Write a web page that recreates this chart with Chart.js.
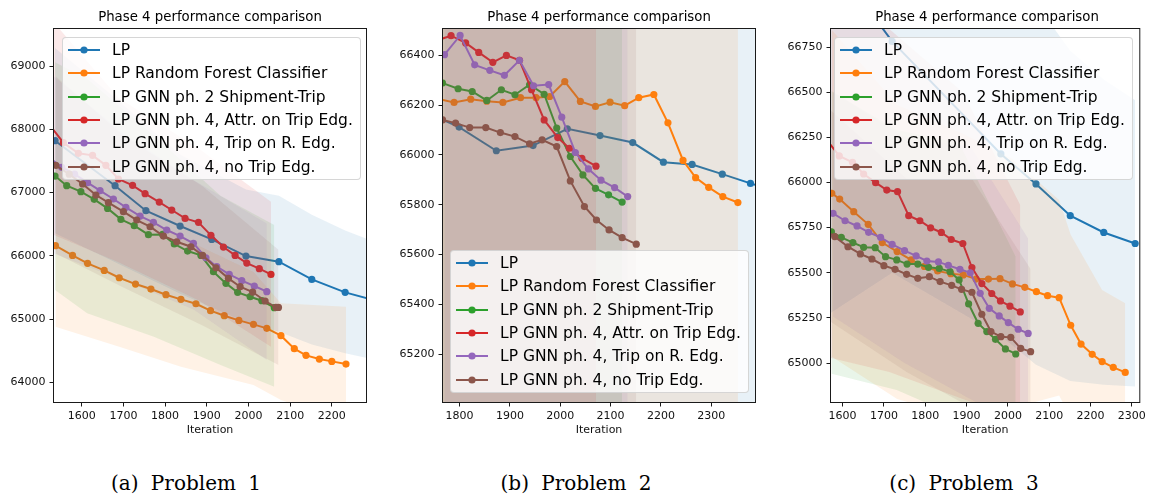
<!DOCTYPE html>
<html>
<head>
<meta charset="utf-8">
<script src="https://cdn.jsdelivr.net/npm/chart.js@4.4.1/dist/chart.umd.min.js"></script>
<style>
  body { margin: 0; background: #fff; }
  #fig { position: relative; width: 1149px; height: 495px; overflow: hidden; font-family: "DejaVu Sans", sans-serif; }
  canvas { position: absolute; top: 0; }
  .ttl { position: absolute; top: 9px; width: 320px; margin-left: -160px; text-align: center; font-size: 13.3px; color: #000; line-height: 16px; }
  .cap { position: absolute; top: 470px; width: 240px; margin-left: -120px; text-align: center; font-family: "DejaVu Serif", serif; font-size: 20px; word-spacing: 6px; color: #000; line-height: 26px; }
  .leg { position: absolute; width: 299px; height: 143px; background: rgba(255,255,255,0.8); border: 1px solid rgba(204,204,204,0.8); border-radius: 4px; box-sizing: border-box; }
  .row { position: absolute; left: 0; height: 20px; white-space: nowrap; }
  .row svg { position: absolute; left: 4px; top: 4px; }
  .row span { position: absolute; left: 49px; top: 0; font-size: 15.5px; line-height: 20px; color: #000; }
</style>
</head>
<body>
<div id="fig">
  <canvas id="c1" width="372" height="445" style="left:0px"></canvas>
  <canvas id="c2" width="372" height="445" style="left:389px"></canvas>
  <canvas id="c3" width="372" height="445" style="left:777px"></canvas>
  <div class="ttl" style="left:210px">Phase 4 performance comparison</div>
  <div class="ttl" style="left:599px">Phase 4 performance comparison</div>
  <div class="ttl" style="left:987px">Phase 4 performance comparison</div>
  <div class="cap" style="left:186px">(a) Problem 1</div>
  <div class="cap" style="left:576px">(b) Problem 2</div>
  <div class="cap" style="left:964px">(c) Problem 3</div>
</div>
<script>
const SERIES_NAMES = [
  "LP",
  "LP Random Forest Classifier",
  "LP GNN ph. 2 Shipment-Trip",
  "LP GNN ph. 4, Attr. on Trip Edg.",
  "LP GNN ph. 4, Trip on R. Edg.",
  "LP GNN ph. 4, no Trip Edg."
];
const COLORS = ["#1f77b4", "#ff7f0e", "#2ca02c", "#d62728", "#9467bd", "#8c564b"];

// ---- Problem 1: [iteration, value]
const p1LP = [[1536,67820],[1680,67109],[1754,66713],[1836,66471],[1912,66260],[1994,65997],[2073,65907],[2152,65628],[2232,65423],[2312,65280]];
const p1RF = [[1537,66160],[1578,66007],[1614,65881],[1654,65770],[1690,65654],[1729,65554],[1766,65475],[1802,65386],[1838,65312],[1874,65243],[1909,65133],[1942,65054],[1977,64980],[2012,64917],[2044,64854],[2078,64738],[2110,64532],[2138,64427],[2170,64369],[2200,64332],[2234,64290]];
const p1GNN2 = [[1536,67261],[1564,67109],[1598,67014],[1630,66893],[1662,66750],[1694,66576],[1726,66476],[1760,66334],[1794,66339],[1822,66187],[1854,66076],[1886,66007],[1916,65749],[1946,65565],[1974,65423],[2004,65354],[2032,65291],[2062,65180]];
const p1Attr = [[1524,68060],[1556,67788],[1592,67620],[1626,67588],[1658,67430],[1688,67214],[1722,67114],[1752,66982],[1786,66850],[1816,66724],[1848,66592],[1880,66529],[1910,66324],[1940,66139],[1968,66007],[1996,65886],[2026,65797],[2054,65707]];
const p1Trip = [[1521,67560],[1552,67400],[1583,67290],[1614,67156],[1644,67030],[1676,66898],[1706,66766],[1740,66629],[1772,66529],[1804,66408],[1836,66313],[1868,66197],[1898,65970],[1924,65828],[1954,65707],[1984,65607],[2014,65523],[2044,65433]];
const p1NoTrip = [[1538,67430],[1570,67290],[1602,67135],[1634,66961],[1664,66840],[1700,66698],[1732,66566],[1764,66460],[1796,66313],[1828,66223],[1862,66144],[1890,66007],[1922,65812],[1952,65644],[1980,65512],[2010,65428],[2040,65286],[2066,65185],[2072,65185]];
// shaded bands: [iteration, lower, upper]
const p1LPBand = [[1536,66355,69285],[1680,65900,68500],[1836,65400,67600],[1994,64950,67050],[2073,64800,66950],[2152,64600,66650],[2232,64459,66400],[2312,64350,66200]];
const p1RFBand = [[1537,64880,67430],[1690,64564,66764],[1838,64248,66292],[2012,63958,65750],[2078,63720,65250],[2234,63384,65196]];
const p1GNN2Band = [[1536,65460,69060],[1613,65091,68800],[1773,64722,67900],[1933,64274,66950],[2062,63932,66487]];
const p1AttrBand = [[1524,66355,69760],[1688,65900,68500],[1880,65300,67700],[2054,64564,66856]];
const p1TripBand = [[1521,66065,68900],[1706,65600,67900],[1868,65150,67200],[2044,64353,66513]];
const p1NoTripBand = [[1538,66035,68835],[1700,65500,67900],[1890,64900,67100],[2072,64274,66095]];
const p1XTicks = [1600,1700,1800,1900,2000,2100,2200];
const p1YTicks = [64000,65000,66000,67000,68000,69000];

// ---- Problem 2
const p2LP = [[1735,66170],[1799,66112],[1873,66017],[1946,66038],[2014,66105],[2079,66078],[2144,66050],[2205,65971],[2262,65962],[2322,65923],[2378,65886],[2440,65850]];
const p2RF = [[1757,66225],[1789,66211],[1822,66224],[1854,66216],[1886,66211],[1921,66230],[1952,66230],[1979,66235],[2009,66295],[2040,66215],[2070,66195],[2099,66212],[2128,66198],[2156,66230],[2186,66243],[2214,66129],[2244,65978],[2269,65909],[2295,65870],[2323,65833],[2353,65809]];
const p2GNN2 = [[1766,66289],[1797,66266],[1825,66255],[1854,66219],[1883,66262],[1910,66242],[1939,66282],[1968,66244],[1993,66108],[2020,65994],[2045,65920],[2070,65866],[2096,65840],[2123,65811]];
const p2Attr = [[1755,66460],[1783,66479],[1812,66450],[1838,66412],[1866,66372],[1893,66400],[1919,66380],[1943,66262],[1968,66141],[1995,66070],[2018,66027],[2043,65987],[2071,65955]];
const p2Trip = [[1770,66403],[1801,66480],[1830,66362],[1860,66340],[1889,66320],[1919,66380],[1947,66278],[1977,66283],[2003,66152],[2030,66010],[2056,65944],[2081,65899],[2108,65869],[2134,65833]];
const p2NoTrip = [[1766,66141],[1792,66128],[1820,66110],[1852,66110],[1881,66090],[1910,66074],[1939,66045],[1964,66061],[1993,66034],[2020,65896],[2048,65793],[2072,65739],[2097,65699],[2123,65668],[2151,65642]];
const p2LPBand = [[1735,64700,67600],[2440,64800,67100]];
const p2RFBand = [[1757,64800,67400],[2353,64850,66900]];
const p2GNN2Band = [[1766,64800,67500],[2123,64850,66900]];
const p2AttrBand = [[1755,64850,67700],[2071,64900,67000]];
const p2TripBand = [[1770,64850,67600],[2134,64900,66900]];
const p2NoTripBand = [[1766,64800,67400],[2151,64850,66800]];
const p2XTicks = [1800,1900,2000,2100,2200,2300];
const p2YTicks = [65200,65400,65600,65800,66000,66200,66400];

// ---- Problem 3
const p3LP = [[1560,67300],[1640,67030],[1720,66781],[1983,66158],[2068,65992],[2151,65816],[2232,65723],[2308,65662]];
const p3RF = [[1574,65940],[1593,65908],[1627,65838],[1662,65768],[1696,65667],[1732,65617],[1766,65571],[1798,65535],[1830,65510],[1862,65495],[1892,65488],[1923,65465],[1953,65465],[1981,65467],[2011,65438],[2041,65419],[2069,65395],[2096,65373],[2124,65362],[2152,65209],[2177,65105],[2204,65048],[2228,65008],[2255,64976],[2284,64948]];
const p3GNN2 = [[1573,65727],[1597,65696],[1625,65667],[1651,65641],[1679,65639],[1704,65589],[1731,65571],[1756,65548],[1782,65548],[1808,65530],[1834,65524],[1860,65506],[1882,65460],[1905,65327],[1928,65220],[1949,65174],[1970,65131],[1994,65078],[2019,65050]];
const p3Attr = [[1560,66240],[1592,66147],[1624,66112],[1651,66047],[1680,65999],[1707,65958],[1733,65949],[1760,65816],[1787,65788],[1813,65749],[1839,65723],[1863,65684],[1891,65662],[1913,65529],[1937,65440],[1961,65385],[1982,65344],[2005,65315],[2030,65283]];
const p3Trip = [[1577,65829],[1606,65788],[1635,65759],[1663,65724],[1692,65696],[1720,65657],[1750,65622],[1778,65593],[1804,65565],[1832,65560],[1856,65541],[1884,65519],[1909,65500],[1933,65386],[1955,65303],[1979,65261],[2001,65224],[2025,65187],[2049,65164]];
const p3NoTrip = [[1552,65745],[1581,65700],[1613,65644],[1643,65604],[1671,65576],[1700,65539],[1727,65519],[1755,65491],[1782,65469],[1810,65478],[1836,65451],[1864,65430],[1888,65408],[1913,65392],[1937,65270],[1959,65174],[1983,65146],[2007,65142],[2031,65081],[2055,65063]];
const p3LPBand = [[1560,65260,68600],[1720,65500,67860],[1983,65150,67170],[2068,64990,66990],[2151,64900,66730],[2232,64880,66570],[2308,64870,66455]];
const p3RFBand = [[1574,65035,66845],[1732,64800,66430],[1892,64700,66270],[2011,64750,66130],[2124,64820,65903],[2152,64700,65710],[2228,64620,65404],[2284,64561,65331]];
const p3GNN2Band = [[1573,64940,66506],[1731,64850,66290],[1882,64700,66218],[2019,64500,65590]];
const p3AttrBand = [[1560,65035,67400],[1713,64950,66850],[1891,64800,66500],[2030,64690,65875]];
const p3TripBand = [[1577,65257,66500],[1750,65000,66250],[1909,64800,66200],[2049,64633,65690]];
const p3NoTripBand = [[1552,65257,66440],[1755,64950,66020],[1913,64750,66020],[2055,64600,65520]];
const p3XTicks = [1600,1700,1800,1900,2000,2100,2200,2300];
const p3YTicks = [65000,65250,65500,65750,66000,66250,66500,66750];

Chart.defaults.font.family = "DejaVu Sans";

function rgba(hex, a) {
  const n = parseInt(hex.slice(1), 16);
  return "rgba(" + (n >> 16) + "," + ((n >> 8) & 255) + "," + (n & 255) + "," + a + ")";
}

const spines = {
  id: "spines",
  afterDraw(chart) {
    const { ctx, chartArea: a } = chart;
    ctx.save();
    ctx.strokeStyle = "#1a1a1a";
    ctx.lineWidth = 1;
    ctx.strokeRect(a.left - 0.5, a.top - 0.5, a.right - a.left + 1, a.bottom - a.top + 1);
    ctx.restore();
  }
};

function buildDatasets(series, bands) {
  const out = [];
  series.forEach((pts, k) => {
    const c = COLORS[k];
    out.push({
      data: pts.map(p => ({ x: p[0], y: p[1] })),
      borderColor: c, backgroundColor: c,
      pointBackgroundColor: c, pointBorderColor: c,
      borderWidth: 2, pointRadius: 3.6, pointBorderWidth: 0,
      tension: 0, fill: false, order: 40 - 3 * k
    });
    const b = bands[k];
    out.push({
      data: b.map(p => ({ x: p[0], y: p[2] })),
      borderColor: "transparent", borderWidth: 0, pointRadius: 0,
      backgroundColor: rgba(c, 0.1), fill: "+1", tension: 0, order: 39 - 3 * k
    });
    out.push({
      data: b.map(p => ({ x: p[0], y: p[1] })),
      borderColor: "transparent", borderWidth: 0, pointRadius: 0,
      fill: false, tension: 0, order: 38 - 3 * k
    });
  });
  return out;
}

function axis(min, max, ticks, isX) {
  const cfg = {
    type: "linear", min, max,
    afterBuildTicks: s => { s.ticks = ticks.map(v => ({ value: v })); },
    ticks: { callback: v => String(v), color: "#111", font: { size: 11 }, autoSkip: false, maxRotation: 0, padding: isX ? 3 : 4 },
    grid: { drawOnChartArea: false, drawTicks: true, tickLength: 4.5, color: "#1a1a1a" },
    border: { display: false }
  };
  if (isX) {
    cfg.afterFit = s => { s.height = 43; };
    cfg.title = { display: true, text: "Iteration", color: "#111", font: { size: 11 }, padding: { top: 0, bottom: 8.4 } };
  } else {
    cfg.afterFit = s => { s.width = 54; };
  }
  return cfg;
}

function makeChart(id, series, bands, xr, yr, xt, yt) {
  new Chart(document.getElementById(id), {
    type: "line",
    data: { datasets: buildDatasets(series, bands) },
    options: {
      responsive: false, animation: false,
      layout: { padding: { top: 29, right: 6, left: 0, bottom: 0 } },
      plugins: { legend: { display: false }, tooltip: { enabled: false }, filler: { drawTime: "beforeDatasetDraw" } },
      scales: { x: axis(xr[0], xr[1], xt, true), y: axis(yr[0], yr[1], yt, false) }
    },
    plugins: [spines]
  });
}

function makeLegend(left, top) {
  const box = document.createElement("div");
  box.className = "leg";
  box.style.left = left + "px";
  box.style.top = top + "px";
  SERIES_NAMES.forEach((name, k) => {
    const row = document.createElement("div");
    row.className = "row";
    row.style.top = (2 + k * 23.3) + "px";
    const c = COLORS[k];
    row.innerHTML = '<svg width="34" height="12"><line x1="1" y1="6" x2="33" y2="6" stroke="' + c +
      '" stroke-width="2"/><circle cx="17" cy="6" r="3.6" fill="' + c + '"/></svg><span>' + name + "</span>";
    box.appendChild(row);
  });
  document.getElementById("fig").appendChild(box);
}

makeChart("c1", [p1LP, p1RF, p1GNN2, p1Attr, p1Trip, p1NoTrip],
  [p1LPBand, p1RFBand, p1GNN2Band, p1AttrBand, p1TripBand, p1NoTripBand],
  [1533.5, 2282], [63690, 69585], p1XTicks, p1YTicks);
makeChart("c2", [p2LP, p2RF, p2GNN2, p2Attr, p2Trip, p2NoTrip],
  [p2LPBand, p2RFBand, p2GNN2Band, p2AttrBand, p2TripBand, p2NoTripBand],
  [1767, 2387], [65008, 66506], p2XTicks, p2YTicks);
makeChart("c3", [p3LP, p3RF, p3GNN2, p3Attr, p3Trip, p3NoTrip],
  [p3LPBand, p3RFBand, p3GNN2Band, p3AttrBand, p3TripBand, p3NoTripBand],
  [1572, 2318], [64784, 66850], p3XTicks, p3YTicks);

makeLegend(62, 37);
makeLegend(450, 250);
makeLegend(834, 37);
</script>
</body>
</html>
